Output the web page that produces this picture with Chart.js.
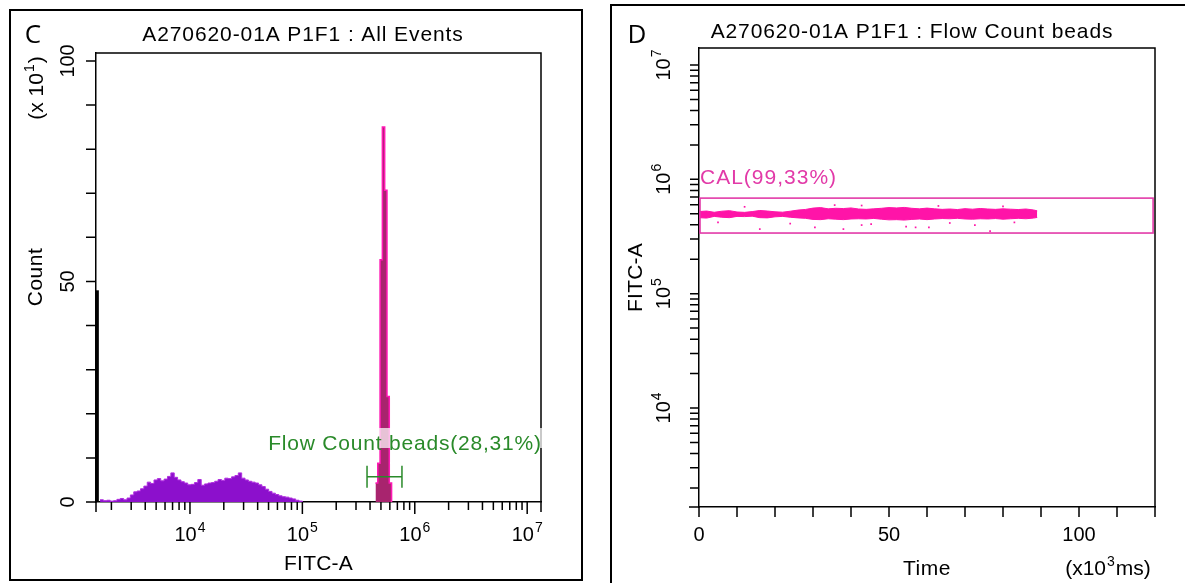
<!DOCTYPE html>
<html>
<head>
<meta charset="utf-8">
<script src="https://cdn.jsdelivr.net/npm/chart.js@4.4.1/dist/chart.umd.min.js"></script>
<style>
  html, body { margin: 0; padding: 0; background: #fff; }
  #wrap { position: relative; width: 1187px; height: 583px; overflow: hidden; }
  .panel { position: absolute; top: 0; }
  #panelC { left: 0; }
  #panelD { left: 600px; }
</style>
</head>
<body>
<div id="wrap">
  <div class="panel" id="panelC"><canvas id="histC" width="600" height="583"></canvas></div>
  <div class="panel" id="panelD"><canvas id="dotD" width="587" height="583"></canvas></div>
</div>
<script>
// ---- panel C : FITC-A histogram, all events (counts are x10) ----
const fitcChannels = [1585, 1698, 1820, 1950, 2089, 2239, 2399, 2570, 2754, 2951,
  3162, 3388, 3631, 3890, 4169, 4467, 4786, 5129, 5495, 5888,
  6310, 6761, 7244, 7762, 8318, 8913, 9550, 10233, 10965, 11749,
  12589, 13490, 14454, 15488, 16596, 17783, 19055, 20417, 21878, 23442,
  25119, 26915, 28840, 30903, 33113, 35481, 38019, 40738, 43652, 46774,
  50119, 53703, 57544, 61660, 66069, 70795, 75858, 81283, 87096, 93325, 100000];
const eventCounts = [0.5, 0.3, 0.4, 0.2, 0.3, 0.6, 0.8, 0.5, 0.9, 1.6,
  2.3, 2.5, 3.0, 3.6, 4.5, 4.2, 5.0, 5.3, 4.8, 5.2,
  5.8, 6.6, 5.6, 5.0, 4.6, 4.3, 3.9, 4.0, 4.4, 5.1,
  3.8, 4.1, 4.3, 4.4, 4.7, 5.1, 4.9, 5.4, 5.3, 5.7,
  6.0, 6.6, 5.4, 5.0, 4.7, 4.5, 4.3, 3.9, 3.5, 2.9,
  2.4, 2.0, 1.7, 1.4, 1.2, 1.1, 0.9, 0.7, 0.4, 0.2, 0];
const debrisChannels = [1500, 1500];
const debrisCounts = [0, 48];
const beadChannels = [447100, 468600, 491200, 514800, 539800, 565800, 593100, 621700];
const beadCounts = [4.3, 8.8, 54.9, 85.0, 70.7, 23.9, 4.3, 0];
const beadGate = [376000, 769000];
const beadGateLevel = 5.7;
const beadGateLabel = 'Flow Count beads(28,31%)';
const countTicks = [0, 50, 100];
const fitcDecadesC = [4, 5, 6, 7];

// ---- panel D : FITC-A vs Time, gated on the beads ----
const timeSteps = [0, 2, 4, 6, 8, 10, 12, 14, 16, 18, 20, 22, 24, 26, 28, 30, 32, 34, 36, 38,
  40, 42, 44, 46, 48, 50, 52, 54, 56, 58, 60, 62, 64, 66, 68, 70, 72, 74, 76, 78,
  80, 82, 84, 86, 88, 89];
const bandUpper = [522000, 528000, 515000, 526000, 532000, 518000, 514000, 522000, 534000, 528000,
  520000, 516000, 526000, 538000, 545000, 560000, 566000, 552000, 558000, 555000,
  562000, 550000, 546000, 552000, 558000, 566000, 562000, 568000, 558000, 552000,
  560000, 552000, 546000, 550000, 544000, 554000, 548000, 556000, 550000, 546000,
  552000, 548000, 544000, 550000, 540000, 530000];
const bandLower = [462000, 458000, 474000, 466000, 462000, 474000, 472000, 476000, 462000, 460000,
  470000, 474000, 466000, 460000, 456000, 446000, 444000, 452000, 448000, 444000,
  450000, 452000, 450000, 455000, 448000, 442000, 444000, 440000, 446000, 450000,
  444000, 450000, 454000, 452000, 456000, 450000, 448000, 452000, 450000, 454000,
  448000, 452000, 456000, 452000, 458000, 464000];
const speckleTimes = [5, 16, 24, 30.5, 38, 42.8, 45.3, 54.5, 57, 60.5, 66, 72.6, 76.6, 83,
  12, 35.7, 42.8, 63, 80];
const speckleFitc = [420000, 367000, 410000, 380000, 367000, 398000, 406000, 385000, 380000, 380000, 415000, 398000, 353000, 420000,
  575000, 595000, 590000, 585000, 580000];
const calGateTime = [0, 119.5];
const calGateFitc = [339000, 685000];
const calLabel = 'CAL(99,33%)';
const timeTicks = [0, 50, 100];
const fitcDecadesD = [4, 5, 6, 7];

const FONT = '"Liberation Sans", Arial, sans-serif';
const MAGENTA = '#ff14a8';
const GREEN = '#2a8a2a';

function txt(ctx, s, x, y, size, opts) {
  opts = opts || {};
  ctx.save();
  ctx.translate(x, y);
  if (opts.rotate) ctx.rotate(-Math.PI / 2);
  ctx.font = size + 'px ' + (opts.family || FONT);
  ctx.fillStyle = opts.color || '#000';
  ctx.textAlign = opts.align || 'center';
  ctx.textBaseline = 'alphabetic';
  ctx.letterSpacing = (opts.spacing || 0) + 'px';
  ctx.fillText(s, 0, 0);
  ctx.restore();
}

// "10" with a raised exponent, centred on (x, y) baseline
function powerLabel(ctx, base, exp, tail, x, y, rotate, size) {
  size = size || 19;
  const sup = Math.round(size * 0.68);
  ctx.save();
  ctx.translate(x, y);
  if (rotate) ctx.rotate(-Math.PI / 2);
  ctx.fillStyle = '#000';
  ctx.textAlign = 'left';
  ctx.textBaseline = 'alphabetic';
  ctx.font = size + 'px ' + FONT;
  const w1 = ctx.measureText(base).width;
  const w3 = tail ? ctx.measureText(tail).width : 0;
  ctx.font = sup + 'px ' + FONT;
  const w2 = ctx.measureText(exp).width;
  const total = w1 + 1 + w2 + (tail ? 1 + w3 : 0);
  let cx = -total / 2;
  ctx.font = size + 'px ' + FONT;
  ctx.fillText(base, cx, 0);
  cx += w1 + 1;
  ctx.font = sup + 'px ' + FONT;
  ctx.fillText(exp, cx, -size * 0.45);
  cx += w2 + 1;
  if (tail) {
    ctx.font = size + 'px ' + FONT;
    ctx.fillText(tail, cx, 0);
  }
  ctx.restore();
}

function logTicks(min, max) {
  const out = [];
  for (let e = Math.floor(Math.log10(min)); e <= Math.ceil(Math.log10(max)); e++) {
    for (let m = 1; m < 10; m++) {
      const v = m * Math.pow(10, e);
      if (v >= min && v <= max) out.push({ v: v, major: m === 1 });
    }
  }
  return out;
}

const histDecor = {
  id: 'histDecor',
  afterDraw(chart) {
    const { ctx, chartArea: a, scales: { x, y } } = chart;
    ctx.save();
    ctx.strokeStyle = '#000';
    // outer frame of the panel
    ctx.lineWidth = 2;
    ctx.strokeRect(10, 10, 572, 570);
    ctx.lineWidth = 1.5;
    // plot box top and right sides
    ctx.beginPath();
    ctx.moveTo(a.left, a.top);
    ctx.lineTo(a.right, a.top);
    ctx.lineTo(a.right, a.bottom + 10);
    ctx.moveTo(a.left, a.bottom);
    ctx.lineTo(a.left, a.bottom + 10);
    ctx.stroke();
    // x ticks (log)
    ctx.beginPath();
    logTicks(x.min, x.max).forEach(t => {
      const px = x.getPixelForValue(t.v);
      ctx.moveTo(px, a.bottom);
      ctx.lineTo(px, a.bottom + (t.major ? 12 : 8));
    });
    // y ticks every 10
    for (let v = 0; v <= 100; v += 10) {
      const py = y.getPixelForValue(v);
      ctx.moveTo(a.left, py);
      ctx.lineTo(a.left - 10, py);
    }
    ctx.stroke();
    // tick labels
    fitcDecadesC.forEach(e => powerLabel(ctx, '10', String(e), null, x.getPixelForValue(Math.pow(10, e)), 541, false, 20));
    countTicks.forEach(v => txt(ctx, String(v), 74, y.getPixelForValue(v), 20, { rotate: true }));
    // axis titles
    txt(ctx, 'Count', 42, 277, 21, { rotate: true, spacing: 0.5 });
    powerLabel(ctx, '(x 10', '1', ')', 43, 88, true, 21);
    txt(ctx, 'FITC-A', (a.left + a.right) / 2, 570, 21, { spacing: 0.2 });
    // title and panel letter
    txt(ctx, 'A270620-01A P1F1 : All Events', 303, 41, 21, { spacing: 0.9 });
    txt(ctx, 'C', 33, 43, 26, { family: '"Open Sans", sans-serif' });
    // bead gate marker
    const g0 = x.getPixelForValue(beadGate[0]);
    const g1 = x.getPixelForValue(beadGate[1]);
    const gy = y.getPixelForValue(beadGateLevel);
    ctx.strokeStyle = GREEN;
    ctx.lineWidth = 1.5;
    ctx.beginPath();
    ctx.moveTo(g0, gy); ctx.lineTo(g1, gy);
    ctx.moveTo(g0, gy - 11); ctx.lineTo(g0, gy + 11);
    ctx.moveTo(g1, gy - 11); ctx.lineTo(g1, gy + 11);
    ctx.stroke();
    ctx.font = '21px ' + FONT;
    ctx.letterSpacing = '0.8px';
    const lw = ctx.measureText(beadGateLabel).width;
    ctx.letterSpacing = '0px';
    const lx = 405;
    ctx.fillStyle = 'rgba(255,255,255,0.72)';
    ctx.fillRect(lx - lw / 2 - 2, 428, lw + 4, 20);
    txt(ctx, beadGateLabel, lx, 450, 21, { color: GREEN, spacing: 0.8 });
    ctx.restore();
  }
};

const dotDecor = {
  id: 'dotDecor',
  afterDraw(chart) {
    const { ctx, chartArea: a, scales: { x, y } } = chart;
    ctx.save();
    ctx.strokeStyle = '#000';
    ctx.lineWidth = 2;
    // panel frame (left and top sides)
    ctx.beginPath();
    ctx.moveTo(11, 583); ctx.lineTo(11, 5); ctx.lineTo(585, 5);
    ctx.stroke();
    ctx.lineWidth = 1.5;
    ctx.beginPath();
    ctx.moveTo(a.left, a.top);
    ctx.lineTo(a.right, a.top);
    ctx.lineTo(a.right, a.bottom + 10);
    ctx.moveTo(a.left, a.bottom);
    ctx.lineTo(a.left - 10, a.bottom);
    // y ticks (log)
    logTicks(y.min, y.max).forEach(t => {
      const py = y.getPixelForValue(t.v);
      ctx.moveTo(a.left, py);
      ctx.lineTo(a.left - 9, py);
    });
    // x ticks every 10
    for (let v = 0; v <= 110; v += 10) {
      const px = x.getPixelForValue(v);
      ctx.moveTo(px, a.bottom);
      ctx.lineTo(px, a.bottom + 10);
    }
    ctx.stroke();
    // tick labels
    fitcDecadesD.forEach(e => powerLabel(ctx, '10', String(e), null, 70, y.getPixelForValue(Math.pow(10, e)), true, 20));
    timeTicks.forEach(v => txt(ctx, String(v), x.getPixelForValue(v), 541, 20));
    // axis titles
    txt(ctx, 'FITC-A', 42, (a.top + a.bottom) / 2, 21, { rotate: true, spacing: 0.2 });
    txt(ctx, 'Time', (a.left + a.right) / 2, 575, 21, { spacing: 0.5 });
    powerLabel(ctx, '(x10', '3', 'ms)', 508, 575, false, 21);
    // title and panel letter
    txt(ctx, 'A270620-01A P1F1 : Flow Count beads', 312, 38, 21, { spacing: 0.9 });
    txt(ctx, 'D', 37, 43, 26, { family: '"Open Sans", sans-serif' });
    // CAL gate
    const rx0 = x.getPixelForValue(calGateTime[0]);
    const rx1 = x.getPixelForValue(calGateTime[1]);
    const ry0 = y.getPixelForValue(calGateFitc[1]);
    const ry1 = y.getPixelForValue(calGateFitc[0]);
    ctx.strokeStyle = '#e23aa8';
    ctx.lineWidth = 1.6;
    ctx.strokeRect(rx0 + 1, ry0, rx1 - rx0 - 1, ry1 - ry0);
    txt(ctx, calLabel, rx0 + 1, ry0 - 14, 21, { align: 'left', color: '#e23aa8', spacing: 1.0 });
    ctx.restore();
  }
};

new Chart(document.getElementById('histC'), {
  type: 'line',
  data: {
    datasets: [
      {
        data: fitcChannels.map((v, i) => ({ x: v, y: eventCounts[i] })),
        stepped: true, fill: 'origin', pointRadius: 0,
        borderColor: '#b02ee0', borderWidth: 1, backgroundColor: '#8c10cc'
      },
      {
        data: beadChannels.map((v, i) => ({ x: v, y: beadCounts[i] })),
        stepped: true, fill: 'origin', pointRadius: 0,
        borderColor: '#ff18b4', borderWidth: 1.5, backgroundColor: '#a8246e'
      },
      {
        data: debrisChannels.map((v, i) => ({ x: v, y: debrisCounts[i] })),
        pointRadius: 0, borderColor: '#000', borderWidth: 3, fill: false
      }
    ]
  },
  options: {
    responsive: false, animation: false, events: [],
    layout: { padding: { left: 56, right: 59, top: 53, bottom: 41 } },
    plugins: { legend: { display: false }, tooltip: { enabled: false } },
    scales: {
      x: {
        type: 'logarithmic', min: 1459, max: 13270000,
        ticks: { display: false }, grid: { display: false },
        border: { display: true, color: '#000', width: 1.5 },
        afterFit: s => { s.height = 40; }
      },
      y: {
        type: 'linear', min: 0, max: 101.8,
        ticks: { display: false }, grid: { display: false },
        border: { display: true, color: '#000', width: 1.5 },
        afterFit: s => { s.width = 40; }
      }
    }
  },
  plugins: [histDecor]
});

new Chart(document.getElementById('dotD'), {
  type: 'scatter',
  data: {
    datasets: [
      {
        data: timeSteps.map((t, i) => ({ x: t, y: bandUpper[i] })),
        showLine: true, fill: '+1', pointRadius: 0,
        borderColor: MAGENTA, borderWidth: 1, backgroundColor: MAGENTA
      },
      {
        data: timeSteps.map((t, i) => ({ x: t, y: bandLower[i] })),
        showLine: true, fill: false, pointRadius: 0,
        borderColor: MAGENTA, borderWidth: 1
      },
      {
        data: speckleTimes.map((t, i) => ({ x: t, y: speckleFitc[i] })),
        pointRadius: 1.2, pointStyle: 'rect', borderWidth: 0,
        backgroundColor: MAGENTA
      }
    ]
  },
  options: {
    responsive: false, animation: false, events: [],
    layout: { padding: { left: 59, right: 32, top: 48, bottom: 36 } },
    plugins: { legend: { display: false }, tooltip: { enabled: false } },
    scales: {
      x: {
        type: 'linear', min: 0, max: 120,
        ticks: { display: false }, grid: { display: false },
        border: { display: true, color: '#000', width: 1.5 },
        afterFit: s => { s.height = 40; }
      },
      y: {
        type: 'logarithmic', min: 1361, max: 14084000,
        ticks: { display: false }, grid: { display: false },
        border: { display: true, color: '#000', width: 1.5 },
        afterFit: s => { s.width = 40; }
      }
    }
  },
  plugins: [dotDecor]
});
</script>
</body>
</html>
